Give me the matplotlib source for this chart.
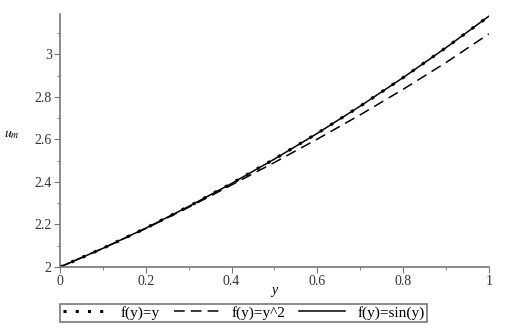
import numpy as np
import matplotlib.pyplot as plt
from matplotlib.ticker import MultipleLocator

plt.rcParams['font.family'] = ['Liberation Serif', 'DejaVu Serif']
plt.rcParams['mathtext.fontset'] = 'stix'

# values
y_vals = [0.0, 0.1, 0.2, 0.3, 0.4, 0.5, 0.6, 0.7, 0.8, 0.9, 1.0]
u_lin = [2.0, 2.088, 2.183, 2.285, 2.393, 2.508, 2.629, 2.757, 2.891, 3.032, 3.18]
u_sq = [2.0, 2.088, 2.181, 2.281, 2.386, 2.492, 2.602, 2.716, 2.836, 2.962, 3.097]
u_sin = [2.0, 2.088, 2.183, 2.285, 2.393, 2.508, 2.629, 2.757, 2.891, 3.032, 3.18]

fig = plt.figure(figsize=(5.05, 3.28), dpi=100)
ax = fig.add_axes([0.119, 0.186, 0.849, 0.771])

ax.plot(y_vals, u_lin, color='black', linestyle=(0, (1, 3)), lw=2.2, label='f(y)=y')
ax.plot(y_vals, u_sq, color='black', linestyle=(0, (7, 4)), lw=1.1, label='f(y)=y^2')
ax.plot(y_vals, u_sin, color='black', linestyle='-', lw=1.1, label='f(y)=sin(y)')

ax.set_xlim(0, 1)
ax.set_ylim(2, 3.19)
ax.spines['top'].set_visible(False)
ax.spines['right'].set_visible(False)
for s in ('left', 'bottom'):
    ax.spines[s].set_color('#777777')
    ax.spines[s].set_linewidth(1.2)

ax.xaxis.set_major_locator(MultipleLocator(0.2))
ax.xaxis.set_minor_locator(MultipleLocator(0.1))
ax.yaxis.set_major_locator(MultipleLocator(0.2))
ax.yaxis.set_minor_locator(MultipleLocator(0.1))
ax.xaxis.set_major_formatter(plt.FuncFormatter(lambda v, p: f'{v:g}'))
ax.yaxis.set_major_formatter(plt.FuncFormatter(lambda v, p: f'{v:g}'))
ax.tick_params(which='major', length=4, color='#777777', labelsize=10,
               labelcolor='#333333', pad=2)
ax.tick_params(which='minor', length=2.5, color='#777777')

ax.set_xlabel('y', fontstyle='italic', fontsize=10, labelpad=-3)
ax.set_ylabel('$u_m$', fontsize=10, rotation=0, labelpad=16)

leg = ax.legend(loc='upper center', bbox_to_anchor=(0.428, -0.115), ncol=3,
                frameon=True, fancybox=False, fontsize=11, handlelength=3.0,
                columnspacing=0.9, handletextpad=0.8, borderpad=0.15)
leg.get_frame().set_edgecolor('#555555')
leg.get_frame().set_linewidth(1.2)

fig.savefig('out.png')
